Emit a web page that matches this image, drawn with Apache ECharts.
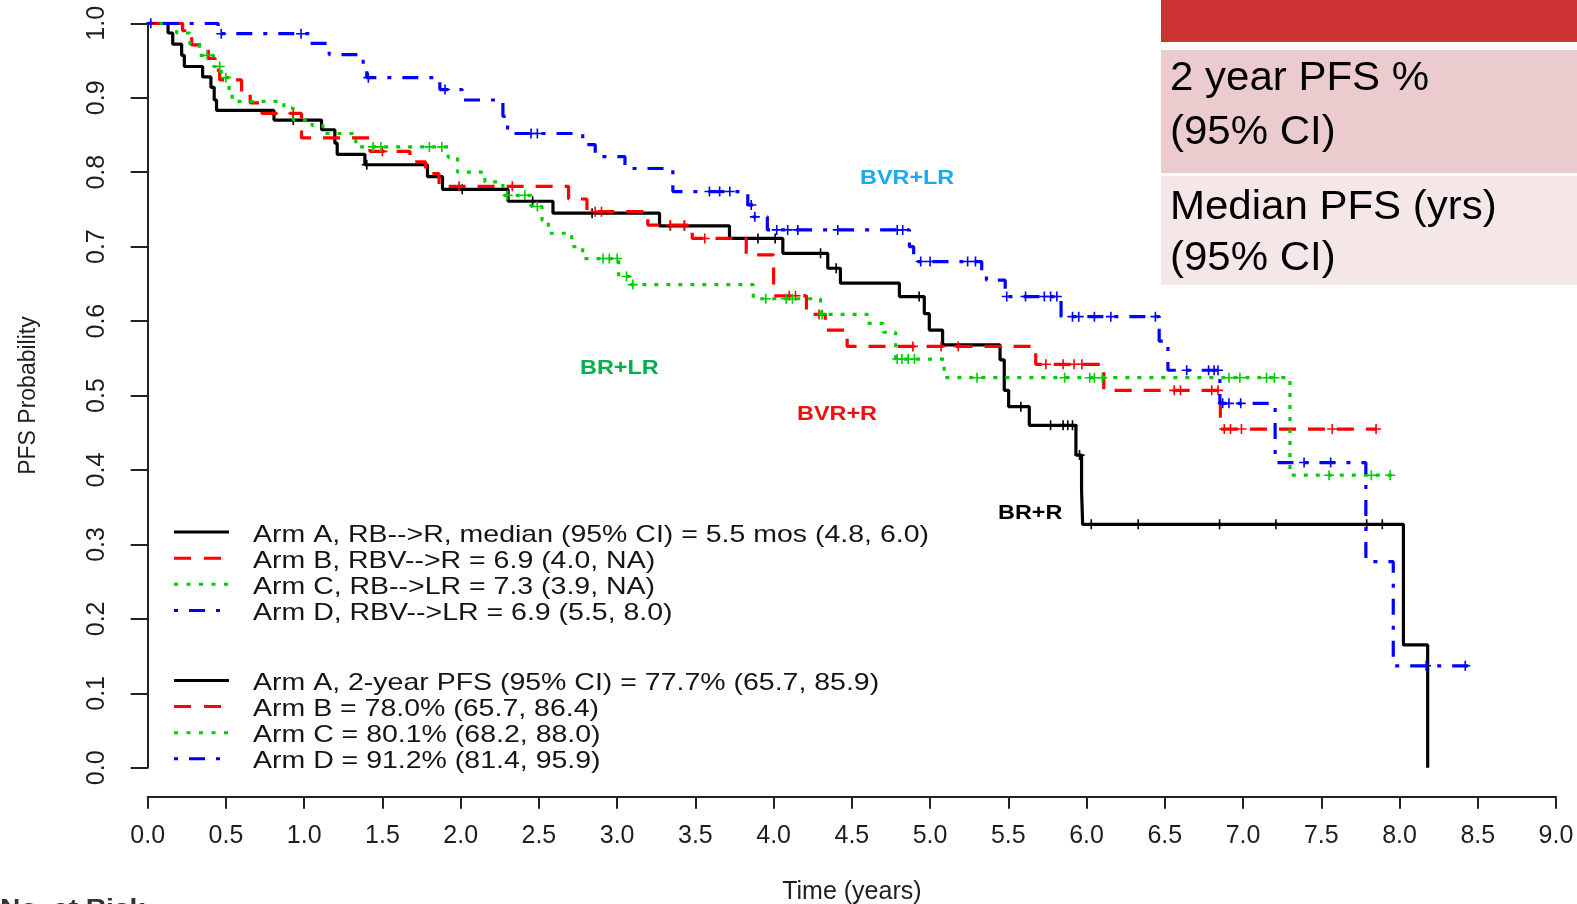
<!DOCTYPE html>
<html>
<head>
<meta charset="utf-8">
<script src="https://cdn.jsdelivr.net/npm/echarts@6/dist/echarts.min.js"></script>
<style>
html,body{margin:0;padding:0;background:#ffffff;}
#c{width:1577px;height:904px;}
</style>
</head>
<body>
<div id="c"></div>
<script>
// ---------------- data ----------------
const xTickLabels = ['0.0','0.5','1.0','1.5','2.0','2.5','3.0','3.5','4.0','4.5','5.0','5.5','6.0','6.5','7.0','7.5','8.0','8.5','9.0'];
const yTickLabels = ['0.0','0.1','0.2','0.3','0.4','0.5','0.6','0.7','0.8','0.9','1.0'];
const armNames = ['Arm A','Arm B','Arm C','Arm D'];

// Kaplan-Meier steps: [time (years), survival after the drop]
const armA_steps = [[0,1],[0.13,0.987],[0.16,0.972],[0.217,0.957],[0.234,0.942],[0.351,0.928],[0.404,0.914],[0.425,0.897],[0.44,0.883],[0.807,0.870],[1.111,0.857],[1.196,0.839],[1.211,0.824],[1.388,0.810],[1.788,0.794],[1.884,0.777],[2.303,0.761],[2.590,0.745],[3.271,0.728],[3.718,0.711],[4.059,0.691],[4.346,0.671],[4.427,0.651],[4.804,0.633],[4.963,0.610],[4.995,0.588],[5.080,0.568],[5.447,0.548],[5.474,0.507],[5.502,0.485],[5.634,0.460],[5.932,0.420],[5.968,0.373],[5.975,0.327],[8.025,0.165],[8.180,0.0]];
const armA_censor = [0.93,1.40,2.01,2.46,2.84,3.34,3.43,3.90,4.01,4.30,4.40,4.93,5.58,5.77,5.85,5.88,5.91,5.955,6.03,6.33,6.85,7.21,7.79,7.89];

const armB_steps = [[0,1],[0.223,0.990],[0.281,0.971],[0.387,0.953],[0.430,0.937],[0.460,0.924],[0.600,0.908],[0.655,0.893],[0.730,0.879],[0.983,0.846],[1.420,0.828],[1.676,0.814],[1.775,0.798],[1.862,0.781],[2.690,0.764],[2.807,0.747],[3.196,0.729],[3.480,0.711],[3.825,0.689],[4.000,0.634],[4.210,0.609],[4.330,0.588],[4.470,0.566],[5.675,0.542],[6.110,0.507],[6.855,0.455],[7.850,0.455]];
const armB_censor = [0.93,1.50,1.99,2.33,2.86,2.90,3.34,3.43,3.56,4.10,4.14,4.29,4.89,5.07,5.18,5.74,5.85,5.92,5.97,6.56,6.60,6.80,6.84,6.88,6.92,6.99,7.57,7.85];

const armC_steps = [[0,1],[0.185,0.987],[0.27,0.972],[0.33,0.957],[0.42,0.942],[0.47,0.927],[0.52,0.910],[0.54,0.895],[0.87,0.886],[0.93,0.870],[1.05,0.863],[1.12,0.852],[1.33,0.834],[1.92,0.820],[1.98,0.800],[2.155,0.787],[2.27,0.769],[2.45,0.754],[2.52,0.735],[2.56,0.718],[2.71,0.700],[2.78,0.684],[3.01,0.660],[3.08,0.649],[3.87,0.630],[4.30,0.609],[4.60,0.597],[4.70,0.585],[4.78,0.549],[5.09,0.524],[7.30,0.393],[7.97,0.393]];
const armC_censor = [0.38,0.46,0.50,1.44,1.49,1.80,1.88,2.30,2.41,2.49,2.91,2.95,3.00,3.06,3.10,3.95,4.08,4.12,4.31,4.79,4.82,4.86,4.90,5.30,5.86,6.02,6.05,6.10,6.91,6.98,7.15,7.20,7.55,7.82,7.94];

const armD_steps = [[0,1],[0.45,0.986],[1.037,0.973],[1.16,0.958],[1.377,0.942],[1.40,0.927],[1.867,0.911],[2.01,0.897],[2.27,0.875],[2.30,0.852],[2.78,0.837],[2.86,0.821],[3.05,0.805],[3.356,0.774],[3.835,0.756],[3.87,0.740],[3.96,0.7225],[4.868,0.700],[4.895,0.680],[5.33,0.668],[5.36,0.655],[5.48,0.633],[5.837,0.606],[6.464,0.573],[6.52,0.534],[6.852,0.4895],[7.205,0.410],[7.785,0.277],[7.96,0.137],[8.45,0.137]];
const armD_censor = [0.02,0.47,0.98,1.41,1.90,2.45,2.49,3.59,3.655,3.72,3.857,3.88,4.02,4.09,4.155,4.41,4.79,4.825,4.94,5.00,5.24,5.29,5.49,5.61,5.73,5.77,5.81,5.91,5.95,6.05,6.155,6.44,6.64,6.78,6.815,6.84,6.87,6.91,6.985,7.39,7.56,8.17,8.42];

const legendMedian = ['Arm A, RB-->R, median (95% CI) = 5.5 mos (4.8, 6.0)','Arm B, RBV-->R = 6.9 (4.0, NA)','Arm C, RB-->LR = 7.3 (3.9, NA)','Arm D, RBV-->LR = 6.9 (5.5, 8.0)'];
const legend2yr = ['Arm A, 2-year PFS (95% CI) = 77.7% (65.7, 85.9)','Arm B = 78.0% (65.7, 86.4)','Arm C = 80.1% (68.2, 88.0)','Arm D = 91.2% (81.4, 95.9)'];
const curveLabels = ['BR+R','BVR+R','BR+LR','BVR+LR'];
const boxLines = ['2 year PFS %','(95% CI)','Median PFS (yrs)','(95% CI)'];

// ---------------- styles ----------------
const FONT = '"Liberation Sans", Arial, Helvetica, sans-serif';
const armColors = ['#000000','#ff0000','#00cd00','#0000ff'];
const armDash = ['solid',[17,12],[4,8],[4,11,16,11]];
const legendDash = [null,[17,13],[4,8.5],[4,11,16,11]];
const legendX2 = [229,221,228,220];
const labelColors = ['#000000','#ee1111','#00b050','#1ba9ef'];
const labelPos = [[998,513],[797,414],[580,368],[860,178]];
const plusPath = 'path://M0,5L10,5M5,0L5,10';

function stepAt(steps, t){
  let s = steps[0][1];
  for (const p of steps){ if (p[0] <= t) s = p[1]; else break; }
  return s;
}

const arms = [
  {steps: armA_steps, cens: armA_censor},
  {steps: armB_steps, cens: armB_censor},
  {steps: armC_steps, cens: armC_censor},
  {steps: armD_steps, cens: armD_censor}
];

const series = [];
arms.forEach((a,i)=>{
  series.push({
    type:'line', name:armNames[i], data:a.steps, step:'end',
    showSymbol:false, symbol:'none', silent:true, z:2+i,
    lineStyle:{color:armColors[i], width:3.2, type:armDash[i], cap:'butt'}
  });
});
arms.forEach((a,i)=>{
  series.push({
    type:'scatter', name:armNames[i]+' censored', silent:true, z:2+i,
    data:a.cens.map(t=>[t, stepAt(a.steps,t)]),
    symbol:plusPath, symbolSize:[10,10],
    itemStyle:{color:'rgba(0,0,0,0)', borderColor:armColors[i], borderWidth:1.6, opacity:1}
  });
});

// ---------------- graphic overlay ----------------
const graphic = [];
const rowsY1 = [535,561.2,587.3,613.4];
const rowsY2 = [683.5,709.6,735.7,761.8];
function addLegend(texts, rowsY){
  texts.forEach((t,i)=>{
    const ly = rowsY[i]-3;
    const st = {stroke:armColors[i], lineWidth:3};
    if (legendDash[i]) st.lineDash = legendDash[i];
    graphic.push({type:'line', silent:true, z:20, shape:{x1:174, y1:ly, x2:legendX2[i], y2:ly}, style:st});
    graphic.push({type:'text', silent:true, z:20, x:253, y:rowsY[i], scaleX:1.187,
      style:{text:t, fontSize:24, fontFamily:FONT, fill:'#151515', textAlign:'left', align:'left', textVerticalAlign:'middle', verticalAlign:'middle'}});
  });
}
addLegend(legendMedian, rowsY1);
addLegend(legend2yr, rowsY2);

curveLabels.forEach((t,i)=>{
  graphic.push({type:'text', silent:true, z:20, x:labelPos[i][0], y:labelPos[i][1], scaleX:1.17,
    style:{text:t, fontSize:20, fontWeight:'bold', fontFamily:FONT, fill:labelColors[i], textAlign:'left', align:'left', textVerticalAlign:'middle', verticalAlign:'middle'}});
});

graphic.push({type:'rect', silent:true, z:30, shape:{x:1161, y:0, width:416, height:42}, style:{fill:'#cd3333'}});
graphic.push({type:'rect', silent:true, z:30, shape:{x:1161, y:50, width:416, height:123}, style:{fill:'#ebcbcd'}});
graphic.push({type:'rect', silent:true, z:30, shape:{x:1161, y:176, width:416, height:109}, style:{fill:'#f5e6e8'}});
const boxY = [79,132.5,207.5,259];
boxLines.forEach((t,i)=>{
  graphic.push({type:'text', silent:true, z:31, x:1170, y:boxY[i], scaleX:1.05,
    style:{text:t, fontSize:40, fontFamily:FONT, fill:'#000000', textAlign:'left', align:'left', textVerticalAlign:'middle', verticalAlign:'middle'}});
});

graphic.push({type:'text', silent:true, z:20, x:0, y:909, scaleX:1.17,
  style:{text:'No. at Risk', fontSize:24, fontWeight:'bold', fontFamily:FONT, fill:'#333333', textAlign:'left', align:'left', textVerticalAlign:'middle', verticalAlign:'middle'}});

// ---------------- chart ----------------
const chart = echarts.init(document.getElementById('c'), null, {renderer:'canvas'});
const axisColor = '#222222';
const labelColor = '#1e1e1e';
chart.setOption({
  animation:false,
  backgroundColor:'#ffffff',
  grid:{left:147.7, right:21, top:23.3, bottom:136.2, containLabel:false, outerBoundsMode:'none'},
  xAxis:{
    type:'value', min:0, max:9, interval:0.5, offset:29,
    axisLine:{show:true, onZero:false, lineStyle:{color:axisColor, width:2}},
    axisTick:{show:true, length:12, lineStyle:{color:axisColor, width:2}},
    axisLabel:{show:true, margin:27, fontSize:25, fontFamily:FONT, color:labelColor,
      formatter:(v)=>xTickLabels[Math.round(v/0.5)], showMinLabel:true, showMaxLabel:true, hideOverlap:false},
    splitLine:{show:false},
    name:'Time (years)', nameLocation:'middle', nameGap:83,
    nameTextStyle:{fontSize:25, fontFamily:FONT, color:labelColor}
  },
  yAxis:{
    type:'value', min:0, max:1, interval:0.1,
    axisLine:{show:true, onZero:false, lineStyle:{color:axisColor, width:2}},
    axisTick:{show:true, length:17, lineStyle:{color:axisColor, width:2}},
    axisLabel:{show:true, rotate:90, margin:38, fontSize:25, fontFamily:FONT, color:labelColor,
      formatter:(v)=>yTickLabels[Math.round(v*10)], showMinLabel:true, showMaxLabel:true, hideOverlap:false},
    splitLine:{show:false},
    name:'PFS Probability', nameLocation:'middle', nameRotate:90, nameGap:108,
    nameTextStyle:{fontSize:23, fontFamily:FONT, color:labelColor}
  },
  series:series,
  graphic:graphic
});
</script>
</body>
</html>
